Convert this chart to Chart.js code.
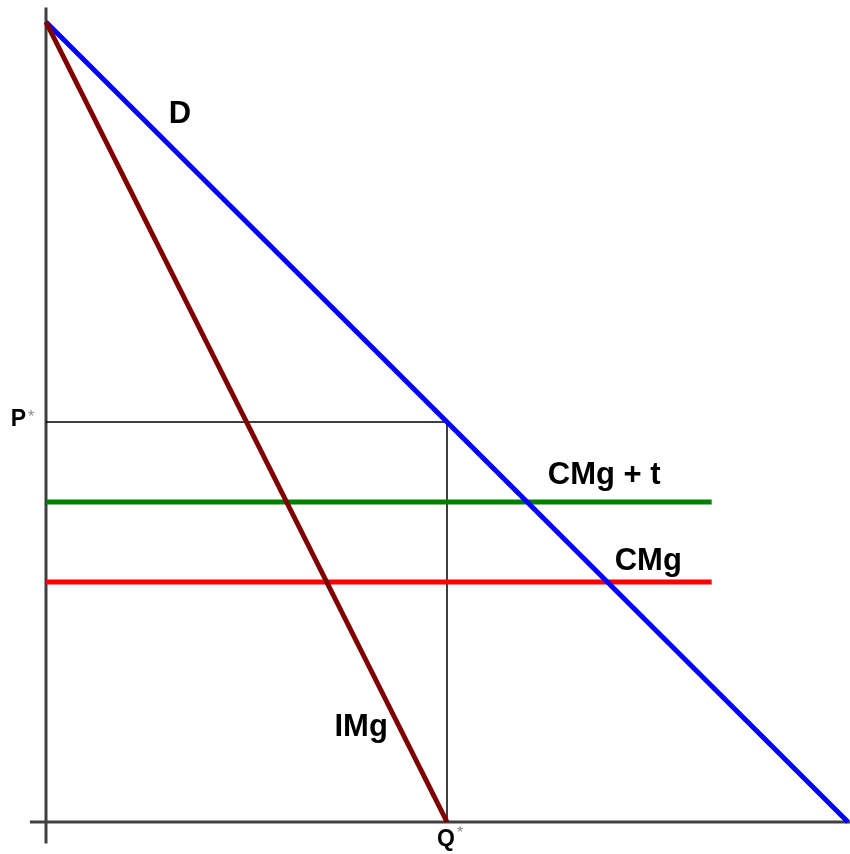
<!DOCTYPE html>
<html>
<head>
<meta charset="utf-8">
<script src="https://cdn.jsdelivr.net/npm/chart.js@4.4.1/dist/chart.umd.min.js"></script>
<style>
html,body{margin:0;padding:0;background:#fff;}
#wrap{width:850px;height:854px;}
</style>
</head>
<body>
<div id="wrap"><canvas id="c" width="850" height="854"></canvas></div>
<script>
// ---- data (quantity on x, price on y) ----
const demandQ = [0, 10];
const demandP = [10, 0];
const imgQ = [0, 5];
const imgP = [10, 0];
const cmgLevel = 3;
const cmgTaxLevel = 4;
const costLineQ = [0, 8.3];
const equilibriumQ = 5;
const equilibriumP = 5;
const yAxisRange = [-0.27, 10.18];
const xAxisRange = [-0.2, 10.03];
const tickLabels = {x: 'Q', y: 'P'};

const pts = (xs, ys) => xs.map((x, i) => ({x, y: ys[i]}));

const labels = [
  {text: 'D', x: 1.67, y: 8.85},
  {text: 'CMg + t', x: 6.96, y: 4.33},
  {text: 'CMg', x: 7.51, y: 3.26},
  {text: 'IMg', x: 3.93, y: 1.18}
];

const labelPlugin = {
  id: 'labels',
  afterDatasetsDraw(chart) {
    const ctx = chart.ctx, xs = chart.scales.x, ys = chart.scales.y;
    ctx.save();
    ctx.fillStyle = '#000';
    ctx.font = 'bold 31px "Liberation Sans", Arial, sans-serif';
    ctx.textAlign = 'center';
    ctx.textBaseline = 'middle';
    labels.forEach(l => ctx.fillText(l.text, xs.getPixelForValue(l.x), ys.getPixelForValue(l.y)));
    // tick labels P* and Q*
    const px = xs.getPixelForValue(0), py = ys.getPixelForValue(equilibriumP);
    ctx.font = 'bold 23px "Liberation Sans", Arial, sans-serif';
    ctx.textAlign = 'right';
    ctx.fillText(tickLabels.y, px - 20, py - 2);
    ctx.font = '16px "Liberation Sans", Arial, sans-serif';
    ctx.fillStyle = '#888';
    ctx.textAlign = 'left';
    ctx.fillText('*', px - 18, py - 4);
    const qx = xs.getPixelForValue(equilibriumQ), qy = ys.getPixelForValue(0);
    ctx.fillStyle = '#000';
    ctx.font = 'bold 23px "Liberation Sans", Arial, sans-serif';
    ctx.textAlign = 'center';
    ctx.fillText(tickLabels.x, qx - 1, qy + 18);
    ctx.font = '16px "Liberation Sans", Arial, sans-serif';
    ctx.fillStyle = '#888';
    ctx.textAlign = 'left';
    ctx.fillText('*', qx + 10, qy + 12);
    ctx.restore();
  }
};

const line = (data, color, width, order) => ({
  data, borderColor: color, borderWidth: width, showLine: true,
  pointRadius: 0, pointHoverRadius: 0, fill: false, tension: 0, clip: false, order
});

new Chart(document.getElementById('c'), {
  type: 'scatter',
  data: {
    datasets: [
      line(pts([0, 0], yAxisRange), '#404040', 3, 6),
      line(pts(xAxisRange, [0, 0]), '#404040', 3, 6),
      line(pts([0, equilibriumQ, equilibriumQ], [equilibriumP, equilibriumP, 0]), '#000', 1.5, 5),
      line(pts(costLineQ, [cmgLevel, cmgLevel]), '#ff0000', 5, 4),
      line(pts(costLineQ, [cmgTaxLevel, cmgTaxLevel]), '#008000', 5, 3),
      line(pts(demandQ, demandP), '#0000ff', 5, 2),
      line(pts(imgQ, imgP), '#800000', 5, 1)
    ]
  },
  options: {
    responsive: false,
    animation: false,
    events: [],
    layout: {padding: {left: 46, right: 2, top: 22, bottom: 32}},
    plugins: {legend: {display: false}, tooltip: {enabled: false}},
    scales: {
      x: {type: 'linear', min: 0, max: 10, display: false},
      y: {type: 'linear', min: 0, max: 10, display: false}
    }
  },
  plugins: [labelPlugin]
});
</script>
</body>
</html>
